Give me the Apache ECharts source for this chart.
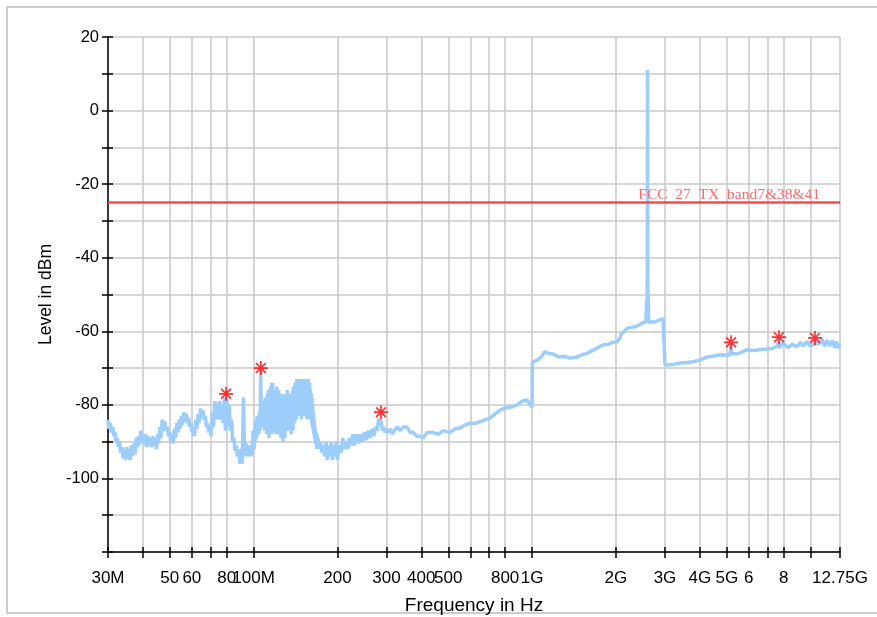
<!DOCTYPE html>
<html>
<head>
<meta charset="utf-8">
<script src="https://cdn.jsdelivr.net/npm/echarts@6/dist/echarts.min.js"></script>
<style>
html,body{margin:0;padding:0;background:#fff;}
#chart{width:877px;height:617px;}
</style>
</head>
<body>
<div id="chart"></div>
<script>
// ---- data (frequency in MHz, level in dBm) ----
// 30 - 100 MHz: upper / lower readings of the noise band
var lowFreq = [30,30.6,31.2,31.8,32.4,33,33.7,34.4,35,35.7,36.4,37.2,37.9,38.6,39.4,40.2,41,41.8,42.6,43.5,44.4,45.2,46.1,47,48,49,50,
 51,52,53,54,55,56.2,57.3,58.4,59.6,60.8,62,63.2,64.5,65.8,67.1,68.4,69.8,71.2,72.6,74,75.5,77,78.6,80.2,81.8,83.4,85,86.7,88.5,90.2,
 92,93.9,95.7,97.7,99.6];
var lowTop = [-84,-85,-86,-87.5,-89,-90,-91.5,-92,-91.5,-92,-91,-90.5,-89,-88.5,-87,-88.5,-88,-88.5,-89,-88.5,-89,-88,-86,-84,-84.5,-86,-87.5,
 -88,-86.5,-85,-84,-83,-82,-82.5,-83.5,-85,-86,-84,-82.5,-81,-81.5,-83,-85,-86,-82,-79,-79.5,-79,-80,-78,-78.5,-80,-84,-89,-91,-92,-92.5,
 -78,-90.5,-91,-91,-87];
var lowBottom = [-86.5,-87.5,-88.5,-90,-91.5,-93,-94.5,-95,-94.5,-95,-94,-93.5,-91.5,-91,-90,-91,-91.5,-91,-91.5,-91,-92,-90.5,-89,-87,-87,-88.5,-90,
 -90.5,-89,-87.5,-86.5,-85.5,-84.5,-85,-86,-87.5,-88.5,-86.5,-85,-83.5,-84,-86,-87.5,-88.5,-86,-84,-84,-84,-85,-87,-86,-87,-90,-92.5,-94,-96,-96,
 -94,-94,-94,-94,-92];
// 101 - 169 MHz dense noise block: upper and lower readings at each MHz
var noiseFreq = [101,102,103,104,105,106,107,108,109,110,111,112,113,114,115,116,117,118,119,120,
 121,122,123,124,125,126,127,128,129,130,131,132,133,134,135,136,137,138,139,140,
 141,142,143,144,145,146,147,148,149,150,151,152,153,154,155,156,157,158,159,160,
 161,162,163,164,165,166,167,168,169];
var noiseTop = [-86,-84,-83,-84,-82,-70.5,-81,-80,-79,-78,-79,-77,-76,-77,-75,-74,-74,-76,-78,-76,
 -75,-77,-76,-78,-79,-77,-77,-80,-82,-79,-77,-76,-78,-77,-79,-80,-78,-76,-75,-76,
 -74,-75,-73,-73,-75,-76,-74,-73,-75,-74,-73,-75,-73,-74,-73,-74,-73,-75,-74,-76,
 -77,-78,-80,-82,-84,-86,-87,-88,-88];
var noiseBottom = [-90,-89,-88,-88,-87,-86,-86,-85,-87,-84,-88,-86,-89,-87,-86,-88,-85,-87,-86,-88,
 -84,-86,-88,-85,-89,-86,-90,-85,-89,-84,-86,-85,-87,-84,-86,-88,-85,-87,-83,-85,
 -82,-84,-82,-83,-81,-83,-82,-84,-82,-83,-82,-81,-83,-82,-84,-82,-83,-84,-82,-84,
 -85,-86,-87,-88,-89,-90,-91,-92,-92];
// 170 MHz - 12.75 GHz
var highFreq = [170,172,174,176,178,180,182,184,186,188,190,192,194,196,198,200,203,206,209,212,215,218,221,224,227,230,234,238,
 242,246,250,254,258,262,266,270,274,278,281,284.4,287,290,293,296,300,305,310,315,320,328,335,345,355,365,374,385,395,406,
 420,441,460,480,508,530,551,575,599,625,650,680,706,735,767,790,813,850,883,920,959,985,1000,
 1001,1030,1060,1090,1112,1140,1188,1250,1300,1368,1450,1500,1575,1650,1720,1797,1880,1950,2018,2060,2100,2150,
 2190,2250,2340,2420,2500,2560,2575,2585,2590,2594,2597,2600,2604,2612,2620,2650,2750,2850,2950,2999,
 3001,3200,3397,3600,3781,4000,4245,4500,4728,5000,5135,5160,5178,5196,5400,5700,5910,6200,6580,7000,7330,7600,
 7690,7700,7710,7960,8300,8600,8935,9200,9390,9700,9950,10300,10368,10430,10810,11000,11200,11500,11740,12000,12200,12400,12540,12750];
var highLevel = [-89,-92,-90,-93,-91,-94,-90,-95,-91,-94,-90,-95,-91,-94,-90,-95,-91,-93,-89,-92,-90,-92,-89,-91,-88,-91,-88,-90.5,
 -88,-90,-87.5,-89.5,-87,-89,-86.5,-88.5,-86,-87,-84,-83.5,-84.5,-87,-86,-87.5,-86.5,-87.5,-86.5,-88,-87,-86,-87,-86,-86,-87.5,-87.5,-88.5,-88.5,-89,
 -87.5,-87.5,-88,-87,-87.5,-86.5,-86.3,-85.5,-85,-85,-84.6,-84,-83.6,-82.5,-81.4,-81,-80.8,-80.5,-80,-79,-78.7,-80,-80.6,
 -68.5,-68,-67.5,-66.5,-65.5,-66,-66.2,-67,-66.8,-67.3,-67,-66.5,-66,-65.2,-64.5,-63.7,-63.5,-63,-62.9,-62,-60.5,-60,
 -59.2,-59,-58.8,-58.3,-57.7,-57.5,-53,-51,-53,-30,11,-28,-52,-50,-57.5,-57.7,-57.5,-57,-56.5,-56.4,
 -69.2,-69,-68.6,-68.5,-68.3,-67.8,-67,-66.7,-66.4,-66.5,-66.4,-66,-64,-66,-66.2,-65.6,-65,-65.2,-65,-64.8,-64.6,-64,
 -64.5,-62.5,-64.5,-63.2,-64.5,-63.5,-64.2,-63,-64,-62.8,-64,-63.5,-62.5,-63.5,-63.2,-62,-64,-62.5,-64,-62.5,-64.5,-62.8,-64.5,-63.5];
var markerFreq = [79.6, 106.2, 286.6, 5178, 7699, 10368];
var markerLevel = [-77, -70, -82, -63, -61.6, -61.8];
var limitFreq = [30, 12750];
var limitLevel = [-25, -25];
var limitName = 'FCC  27  TX  band7&38&41';
var gridFreq = [30,40,50,60,70,80,100,200,300,400,500,600,700,800,1000,2000,3000,4000,5000,6000,7000,8000,10000,12750];
var labelFreq = [30,50,60,80,100,200,300,400,500,800,1000,2000,3000,4000,5000,6000,8000,12750];
var labelText = ['30M','50','60','80','100M','200','300','400','500','800','1G','2G','3G','4G','5G','6','8','12.75G'];

var lg = function (f) { return Math.log10(f); };
var trace = [];
lowFreq.forEach(function (f, i) {
  trace.push([lg(f), lowTop[i]]);
  trace.push([lg(f * 1.008), lowBottom[i]]);
});
noiseFreq.forEach(function (f, i) {
  trace.push([lg(f), noiseTop[i]]);
  trace.push([lg(f + 0.5), noiseBottom[i]]);
});
highFreq.forEach(function (f, i) { trace.push([lg(f), highLevel[i]]); });
var markers = markerFreq.map(function (f, i) { return [lg(f), markerLevel[i]]; });
var limit = limitFreq.map(function (f, i) { return [lg(f), limitLevel[i]]; });

var chart = echarts.init(document.getElementById('chart'), null, {renderer: 'canvas'});
var FONT = 'Liberation Sans, Arial, sans-serif';
var xCommon = { type: 'value', min: lg(30), max: lg(12750), position: 'bottom' };
var option = {
  animation: false,
  backgroundColor: '#fff',
  graphic: [{
    type: 'rect', shape: {x: 7, y: 7, width: 900, height: 606},
    style: {fill: 'none', stroke: '#bdbdbd', lineWidth: 1.5}, silent: true, z: -10
  }],
  grid: {left: 108, right: 37, top: 37, bottom: 65, containLabel: false, outerBoundsMode: 'none'},
  xAxis: [
    Object.assign({}, xCommon, {
      name: 'Frequency in Hz', nameLocation: 'middle', nameGap: 44,
      nameTextStyle: {fontFamily: FONT, fontSize: 19, color: '#000'},
      axisLine: {show: true, onZero: false, lineStyle: {color: '#000', width: 1.5}},
      axisTick: {show: true, inside: false, length: 6, customValues: gridFreq.map(lg), lineStyle: {color: '#000', width: 1.5}},
      axisLabel: {show: true, customValues: labelFreq.map(lg), margin: 18, fontFamily: FONT, fontSize: 17, color: '#000',
        formatter: function (v) {
          var best = 0, d = 1e9;
          for (var i = 0; i < labelFreq.length; i++) { var dd = Math.abs(lg(labelFreq[i]) - v); if (dd < d) { d = dd; best = i; } }
          return labelText[best];
        }},
      splitLine: {show: true, lineStyle: {color: '#c8c8c8', width: 1.5}}
    }),
    Object.assign({}, xCommon, {
      axisLine: {show: false, onZero: false},
      axisTick: {show: true, inside: true, length: 5, customValues: gridFreq.map(lg), lineStyle: {color: '#000', width: 1.5}},
      axisLabel: {show: false},
      splitLine: {show: false}
    })
  ],
  yAxis: [
    {
      type: 'value', min: -120, max: 20, interval: 10, position: 'left',
      name: 'Level in dBm', nameLocation: 'middle', nameGap: 40,
      nameTextStyle: {fontFamily: FONT, fontSize: 17.5, color: '#000'},
      axisLine: {show: true, onZero: false, lineStyle: {color: '#000', width: 1.5}},
      axisTick: {show: true, inside: false, length: 6, lineStyle: {color: '#000', width: 1.5}},
      axisLabel: {margin: 9, fontFamily: FONT, fontSize: 16.5, color: '#000',
        formatter: function (v) { return (v % 20 === 0 && v > -120) ? String(v) : ''; }},
      splitLine: {show: true, lineStyle: {color: '#c8c8c8', width: 1.5}}
    },
    {
      type: 'value', min: -120, max: 20, interval: 10, position: 'left',
      axisLine: {show: false, onZero: false},
      axisTick: {show: true, inside: true, length: 5, lineStyle: {color: '#000', width: 1.5}},
      axisLabel: {show: false},
      splitLine: {show: false}
    }
  ],
  series: [
    {
      name: 'trace', type: 'line', data: trace, xAxisIndex: 0, yAxisIndex: 0,
      showSymbol: false, symbol: 'none', z: 3,
      lineStyle: {color: '#9dcdfb', width: 3.5}
    },
    {
      name: 'limit', type: 'line', data: limit, xAxisIndex: 0, yAxisIndex: 0,
      showSymbol: false, symbol: 'none', z: 4,
      lineStyle: {color: '#f54b4b', width: 2.5},
      markPoint: {
        symbol: 'rect', symbolSize: 0,
        data: [{coord: [lg(12750), -25], value: limitName}],
        label: {show: true, position: 'left', formatter: limitName, color: '#ff6b6b',
          fontFamily: 'Liberation Serif, DejaVu Serif, serif', fontSize: 15.5, offset: [-15, -8]}
      }
    },
    {
      name: 'markers', type: 'scatter', data: markers, xAxisIndex: 0, yAxisIndex: 0, z: 5,
      symbol: 'path://M0,-10L0,10M-10,0L10,0M-7,-7L7,7M-7,7L7,-7',
      symbolSize: 14,
      itemStyle: {color: '#ff0000', borderColor: '#ff0000', borderWidth: 1.7}
    }
  ]
};
chart.setOption(option);
</script>
</body>
</html>
